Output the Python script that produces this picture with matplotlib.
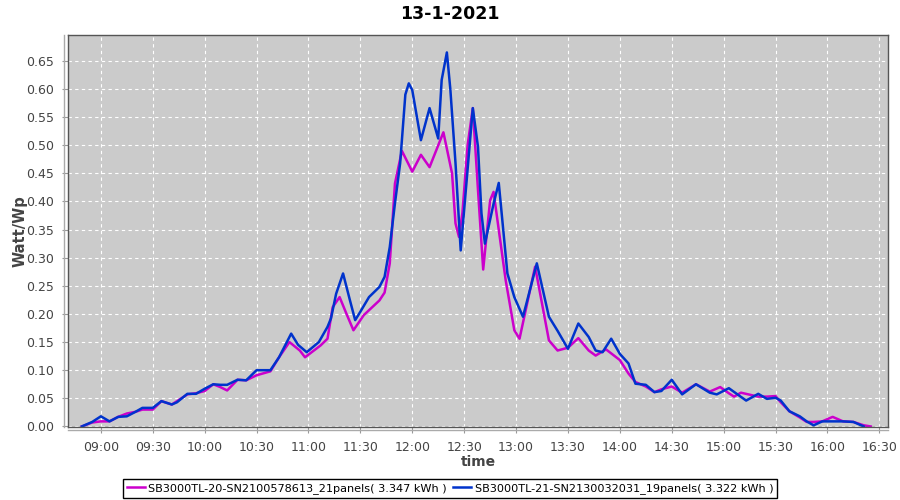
import pandas as pd
import matplotlib
matplotlib.use("Agg")
import matplotlib.pyplot as plt
import matplotlib.dates as mdates

day = "2021-01-13 "

# SB3000TL-20 (magenta)
t20 = ["08:49", "08:55", "09:00", "09:05", "09:10", "09:15", "09:20", "09:24", "09:30",
       "09:35", "09:41", "09:44", "09:50", "09:55", "10:00", "10:05", "10:09", "10:13",
       "10:19", "10:24", "10:30", "10:38", "10:43", "10:49", "10:55", "10:58", "11:07",
       "11:11", "11:14", "11:18", "11:22", "11:26", "11:32", "11:41", "11:44", "11:47",
       "11:50", "11:54", "12:00", "12:05", "12:10", "12:18", "12:23", "12:25", "12:27",
       "12:29", "12:32", "12:35", "12:38", "12:41", "12:45", "12:47", "12:54", "12:59",
       "13:02", "13:11", "13:19", "13:24", "13:30", "13:36", "13:42", "13:46", "13:52",
       "14:00", "14:05", "14:09", "14:15", "14:20", "14:24", "14:30", "14:36", "14:44",
       "14:52", "14:58", "15:03", "15:06", "15:10", "15:20", "15:25", "15:30", "15:33",
       "15:38", "15:44", "15:48", "15:52", "15:57", "16:03", "16:09", "16:15", "16:21",
       "16:25"]
v20 = [0.000, 0.007, 0.009, 0.009, 0.017, 0.023, 0.026, 0.030, 0.030,
       0.045, 0.039, 0.045, 0.057, 0.059, 0.063, 0.075, 0.070, 0.064,
       0.083, 0.082, 0.091, 0.098, 0.123, 0.150, 0.135, 0.123, 0.144,
       0.156, 0.212, 0.230, 0.200, 0.171, 0.198, 0.224, 0.238, 0.290,
       0.432, 0.490, 0.453, 0.483, 0.461, 0.523, 0.450, 0.361, 0.337,
       0.380, 0.500, 0.566, 0.420, 0.279, 0.402, 0.417, 0.260, 0.171,
       0.156, 0.284, 0.153, 0.135, 0.140, 0.157, 0.135, 0.126, 0.137,
       0.118, 0.094, 0.079, 0.071, 0.061, 0.066, 0.071, 0.060, 0.075,
       0.062, 0.070, 0.059, 0.053, 0.060, 0.053, 0.053, 0.054, 0.043,
       0.027, 0.016, 0.008, 0.008, 0.009, 0.017, 0.009, 0.008, 0.002,
       0.000]

# SB3000TL-21 (blue)
t21 = ["08:49", "08:55", "09:00", "09:05", "09:10", "09:15", "09:20", "09:24", "09:30",
       "09:35", "09:41", "09:44", "09:50", "09:55", "10:00", "10:05", "10:09", "10:13",
       "10:19", "10:24", "10:30", "10:38", "10:43", "10:50", "10:54", "10:59", "11:06",
       "11:11", "11:13", "11:16", "11:20", "11:24", "11:27", "11:30", "11:35", "11:41",
       "11:44", "11:47", "11:50", "11:53", "11:56", "11:58", "12:00", "12:05", "12:10",
       "12:15", "12:17", "12:20", "12:22", "12:25", "12:28", "12:35", "12:38", "12:40",
       "12:42", "12:47", "12:50", "12:55", "12:59", "13:04", "13:12", "13:19", "13:24",
       "13:30", "13:36", "13:42", "13:46", "13:50", "13:55", "14:00", "14:05", "14:09",
       "14:15", "14:20", "14:24", "14:30", "14:36", "14:44", "14:52", "14:56", "15:03",
       "15:13", "15:20", "15:25", "15:30", "15:33", "15:38", "15:44", "15:48", "15:52",
       "15:57", "16:03", "16:09", "16:15", "16:21"]
v21 = [0.000, 0.008, 0.018, 0.009, 0.017, 0.018, 0.026, 0.033, 0.033,
       0.045, 0.039, 0.043, 0.058, 0.058, 0.067, 0.075, 0.074, 0.074,
       0.083, 0.082, 0.100, 0.100, 0.123, 0.165, 0.145, 0.132, 0.150,
       0.177, 0.192, 0.236, 0.272, 0.224, 0.189, 0.204, 0.230, 0.248,
       0.266, 0.319, 0.397, 0.468, 0.590, 0.610, 0.598, 0.509, 0.566,
       0.512, 0.616, 0.665, 0.600, 0.468, 0.313, 0.566, 0.497, 0.379,
       0.325, 0.396, 0.433, 0.272, 0.230, 0.195, 0.290, 0.195, 0.170,
       0.138, 0.183, 0.159, 0.135, 0.132, 0.156, 0.129, 0.112, 0.076,
       0.074, 0.061, 0.063, 0.083, 0.057, 0.075, 0.060, 0.057, 0.068,
       0.046, 0.058, 0.049, 0.051, 0.046, 0.027, 0.018, 0.009, 0.002,
       0.009, 0.009, 0.009, 0.008, 0.000]

labels = ["SB3000TL-20-SN2100578613_21panels( 3.347 kWh )",
          "SB3000TL-21-SN2130032031_19panels( 3.322 kWh )"]
colors = ["#CC00CC", "#0033CC"]

x20 = pd.to_datetime([day + t for t in t20])
x21 = pd.to_datetime([day + t for t in t21])

fig = plt.figure(figsize=(9, 5), dpi=100)
ax = fig.add_axes([68 / 900, 73 / 500, 820 / 900, 392 / 500])
ax.set_facecolor("#CBCBCB")

ax.plot(x20, v20, color=colors[0], lw=1.8, label=labels[0])
ax.plot(x21, v21, color=colors[1], lw=1.8, label=labels[1])

ax.set_xlim(pd.Timestamp(day + "08:41"), pd.Timestamp(day + "16:35"))
ax.set_ylim(-0.001, 0.696)
ax.set_yticks([i * 0.05 for i in range(14)])
ax.yaxis.set_major_formatter(matplotlib.ticker.FormatStrFormatter("%.2f"))
ax.xaxis.set_major_locator(mdates.MinuteLocator(byminute=[0, 30]))
ax.xaxis.set_major_formatter(mdates.DateFormatter("%H:%M"))

ax.grid(True, color="white", ls=(0, (3, 3)), lw=0.8)
ax.set_axisbelow(True)
for s in ax.spines.values():
    s.set_color("#555555")
    s.set_linewidth(1)

ax.tick_params(axis="both", colors="#999999", labelcolor="#444444", labelsize=9,
               length=4, pad=6)
# offset axis lines like the original
ax.plot([-0.005, -0.005], [0, 1], transform=ax.transAxes, color="#AAAAAA",
        lw=1, clip_on=False)
ax.plot([0, 1], [-0.008, -0.008], transform=ax.transAxes, color="#AAAAAA",
        lw=1, clip_on=False)

fig.text(0.5, 0.972, "13-1-2021", fontsize=12.5, fontweight="bold",
         ha="center", va="center")
ax.set_xlabel("time", fontsize=10, fontweight="bold", color="#444444", labelpad=1)
ax.set_ylabel("Watt/Wp", fontsize=10.5, fontweight="bold", color="#444444", labelpad=-1)

fig.legend(loc="lower center", bbox_to_anchor=(0.5, 0.0), ncol=2, fontsize=8.1,
           frameon=True, fancybox=False, edgecolor="black", framealpha=1,
           handlelength=1.6, handletextpad=0.3, columnspacing=0.6,
           borderpad=0.35, borderaxespad=0.2)

fig.savefig("out.png", dpi=100)
